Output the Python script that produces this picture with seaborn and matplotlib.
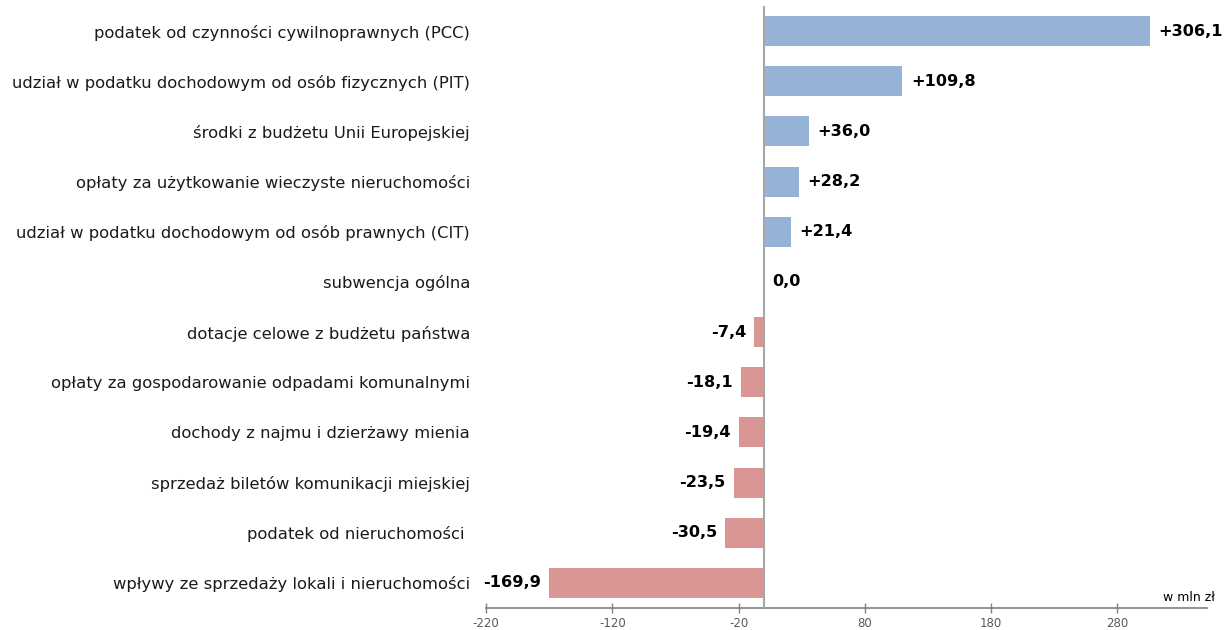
import matplotlib
matplotlib.use("Agg")
import matplotlib.pyplot as plt
import seaborn as sns
import pandas as pd

categories = [
    "podatek od czynności cywilnoprawnych (PCC)",
    "udział w podatku dochodowym od osób fizycznych (PIT)",
    "środki z budżetu Unii Europejskiej",
    "opłaty za użytkowanie wieczyste nieruchomości",
    "udział w podatku dochodowym od osób prawnych (CIT)",
    "subwencja ogólna",
    "dotacje celowe z budżetu państwa",
    "opłaty za gospodarowanie odpadami komunalnymi",
    "dochody z najmu i dzierżawy mienia",
    "sprzedaż biletów komunikacji miejskiej",
    "podatek od nieruchomości ",
    "wpływy ze sprzedaży lokali i nieruchomości",
]
values = [306.1, 109.8, 36.0, 28.2, 21.4, 0.0, -7.4, -18.1, -19.4, -23.5, -30.5, -169.9]
x_ticks = [-220, -120, -20, 80, 180, 280]
unit_label = "w mln zł"

sns.set_theme(style="white")
plt.rcParams["font.family"] = ["DejaVu Sans"]

df = pd.DataFrame({"category": categories, "value": values})
df["sign"] = ["neg" if v < 0 else "pos" for v in values]

fig = plt.figure(figsize=(12.31, 6.30), dpi=100)
ax = fig.add_axes([486 / 1231, 1 - 608 / 630, (1207 - 486) / 1231, (608 - 6) / 630])

sns.barplot(data=df, x="value", y="category", hue="sign",
            palette={"pos": "#95B3D7", "neg": "#D99694"},
            dodge=False, width=0.6, legend=False, orient="h", ax=ax,
            saturation=1, linewidth=0)

ax.axvline(0, color="#A6A6A6", lw=1.5, zorder=3)

def fmt(v):
    s = f"{abs(v):.1f}".replace(".", ",")
    if v > 0:
        return "+" + s
    if v < 0:
        return "-" + s
    return s

for i, v in enumerate(values):
    if v < 0:
        ax.annotate(fmt(v), xy=(v, i), xytext=(-6, 0), textcoords="offset points",
                    ha="right", va="center", fontsize=11.6, fontweight="bold", color="#000000")
    else:
        ax.annotate(fmt(v), xy=(v, i), xytext=(6, 0), textcoords="offset points",
                    ha="left", va="center", fontsize=11.6, fontweight="bold", color="#000000")

ax.set_xlim(-220, 351)
ax.set_ylim(len(categories) - 0.5, -0.5)
ax.set_xticks(x_ticks)
ax.set_xticklabels([str(t) for t in x_ticks])
ax.set_xlabel("")
ax.set_ylabel("")

for s in ["top", "right", "left"]:
    ax.spines[s].set_visible(False)
ax.spines["bottom"].set_color("#808080")
ax.spines["bottom"].set_linewidth(1.2)

ax.tick_params(axis="x", direction="inout", length=7, width=1, color="#808080",
               labelsize=8.5, labelcolor="#595959", pad=3, bottom=True)
ax.tick_params(axis="y", length=0, pad=11.5, labelsize=11.8, labelcolor="#1A1A1A")

ax.text(1.011, 0.018, unit_label, transform=ax.transAxes, ha="right", va="center",
        fontsize=9, color="#000000")

fig.savefig("out.png", dpi=100)
